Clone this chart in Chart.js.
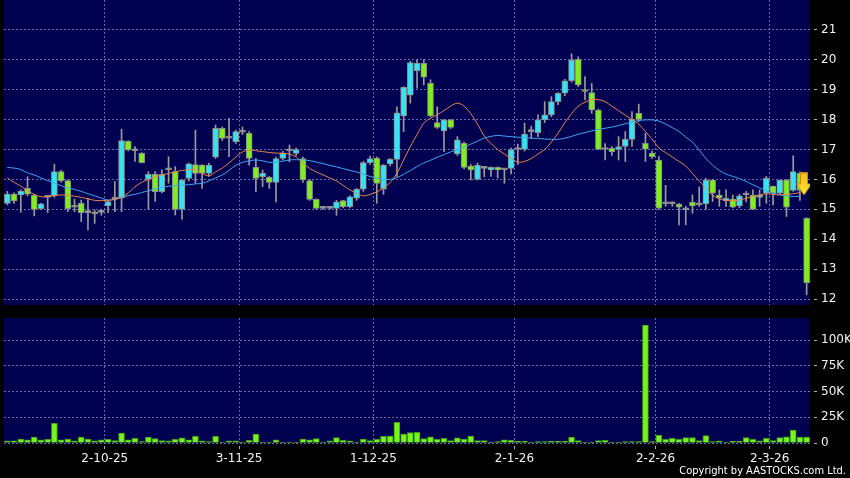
<!DOCTYPE html>
<html>
<head>
<meta charset="utf-8">
<script src="https://cdn.jsdelivr.net/npm/chart.js@4.4.1/dist/chart.umd.min.js"></script>
<style>
  body { margin: 0; background: #000; width: 850px; height: 478px; overflow: hidden; position: relative; font-family: "DejaVu Sans", sans-serif; }
  #priceBox { position: absolute; left: 0; top: 0; width: 850px; height: 310px; }
  #volBox { position: absolute; left: 0; top: 310px; width: 850px; height: 168px; }
  #copy { position: absolute; right: 4px; bottom: 1px; color: #fff; font-size: 11px; font-family: "DejaVu Sans Condensed", "DejaVu Sans", sans-serif; }
</style>
</head>
<body>
<div id="priceBox"><canvas id="priceChart"></canvas></div>
<div id="volBox"><canvas id="volChart"></canvas></div>
<div id="copy">Copyright by AASTOCKS.com Ltd.</div>
<script>
// daily candles, oldest first (index 0 .. 119)
const openP = [15.2,15.51,15.48,15.7,15.48,15.02,15.4,15.45,16.26,15.96,
  15.07,15.2,14.89,14.85,14.9,15.11,15.34,15.37,17.27,16.96,
  16.87,16.0,16.17,15.59,16.32,16.26,15.0,16.03,16.5,16.48,
  16.2,16.74,17.71,17.38,17.26,17.58,17.54,16.4,16.09,16.07,
  15.9,16.7,16.96,16.87,16.7,15.96,15.33,15.03,15.03,15.03,
  15.29,15.09,15.37,15.67,16.56,16.71,15.67,16.52,16.67,18.12,
  18.82,19.64,19.88,19.21,17.9,17.62,17.99,16.85,17.21,16.45,
  16.0,16.37,16.32,16.4,16.32,16.37,17.0,17.0,17.6,17.56,
  17.99,18.16,18.6,18.88,19.3,20.02,19.0,18.9,18.32,17.0,
  17.04,17.0,17.1,17.34,18.21,17.21,16.88,16.65,15.18,15.18,
  15.17,14.98,15.23,15.15,15.18,15.98,15.48,15.29,15.34,15.11,
  15.48,15.48,15.4,15.54,15.78,15.54,15.98,15.63,16.2,14.7];
const highP = [15.6,15.55,15.65,16.09,15.5,15.2,15.42,16.51,16.3,15.98,
  15.34,15.31,15.37,14.98,15.0,15.3,15.93,17.68,17.3,17.1,
  16.9,16.26,16.26,16.32,16.76,16.43,16.0,16.55,17.65,16.5,
  16.55,17.82,17.75,18.04,17.65,17.75,17.6,16.7,16.31,16.1,
  16.75,16.95,17.15,17.05,16.75,16.0,15.35,15.05,15.05,15.3,
  15.3,15.45,15.7,16.6,16.78,16.75,16.5,16.7,18.43,19.1,
  19.95,20.0,20.0,19.33,18.43,18.0,18.0,17.43,17.25,16.5,
  16.55,16.4,16.42,16.42,16.35,17.05,17.18,17.88,17.78,18.16,
  18.6,18.77,18.9,19.35,20.2,20.1,19.44,19.21,18.35,17.2,
  17.1,17.43,17.6,18.27,18.52,17.54,16.95,16.76,15.8,15.25,
  15.2,15.1,15.48,15.75,16.04,16.0,15.65,15.65,15.48,15.5,
  15.6,15.65,15.65,16.1,15.78,15.98,16.0,16.79,16.25,14.72];
const lowP = [15.15,15.2,14.9,15.45,14.78,15.0,14.89,15.4,15.9,14.92,
  14.92,14.59,14.31,14.53,14.8,14.89,14.92,14.92,16.95,16.6,
  16.55,15.0,15.26,15.55,15.87,14.81,14.67,15.95,15.87,15.7,
  16.1,16.7,17.3,16.76,17.2,17.5,16.48,15.59,15.76,15.7,
  15.25,16.65,16.59,16.8,15.9,15.3,15.0,15.0,15.0,14.8,
  15.05,15.05,15.3,15.6,16.5,15.2,15.5,16.45,16.1,17.6,
  18.55,19.05,19.16,18.1,17.7,16.93,17.7,16.8,16.35,15.98,
  15.98,16.09,16.1,16.05,15.87,16.18,16.5,16.95,17.37,17.43,
  17.9,18.1,18.5,18.8,19.25,19.1,18.66,18.21,17.0,16.65,
  16.8,16.65,16.6,17.1,17.93,16.6,16.7,15.0,15.1,15.1,
  14.48,14.48,14.87,15.1,15.0,15.26,15.1,15.1,15.05,15.05,
  15.25,15.0,15.1,15.2,15.15,15.5,14.76,15.6,15.3,12.14];
const closeP = [15.51,15.28,15.61,15.51,15.0,15.18,15.4,16.26,15.96,15.02,
  15.07,14.89,14.89,14.85,14.9,15.26,15.34,17.3,16.99,16.96,
  16.56,16.17,15.59,16.17,16.32,15.0,15.98,16.52,16.2,16.2,
  16.48,17.71,17.37,17.38,17.6,17.58,16.7,16.03,16.2,15.9,
  16.7,16.89,16.96,17.0,15.98,15.33,15.03,15.03,15.03,15.25,
  15.09,15.42,15.67,16.56,16.7,15.87,16.48,16.67,18.23,19.08,
  19.91,19.88,19.42,18.12,17.74,17.99,17.74,17.32,16.4,16.32,
  16.48,16.37,16.4,16.32,16.32,17.0,17.0,17.52,17.6,17.99,
  18.16,18.6,18.88,19.3,19.99,19.16,18.94,18.32,17.0,17.0,
  16.93,17.1,17.34,18.01,18.01,17.01,16.76,15.04,15.18,15.18,
  15.07,14.98,15.11,15.15,15.98,15.54,15.37,15.37,15.07,15.45,
  15.48,15.0,15.48,16.04,15.54,15.98,15.07,16.26,15.63,12.55];
// moving averages as drawn (short = orange, long = blue)
const maShort = [16.05,15.9,15.78,15.62,15.5,15.42,15.43,15.46,15.48,15.47,
  15.44,15.4,15.35,15.3,15.29,15.3,15.33,15.4,15.55,15.75,
  15.9,16.0,16.08,16.15,16.2,16.26,16.3,16.33,16.33,16.2,
  16.12,16.25,16.38,16.55,16.74,16.92,16.98,16.96,16.93,16.9,
  16.88,16.87,16.85,16.75,16.55,16.37,16.25,16.15,16.05,15.95,
  15.8,15.65,15.53,15.45,15.5,15.58,15.72,15.9,16.2,16.65,
  17.1,17.5,17.88,18.05,18.16,18.3,18.45,18.55,18.45,18.2,
  17.85,17.45,17.2,17.0,16.85,16.7,16.58,16.6,16.7,16.85,
  17.0,17.25,17.55,17.9,18.2,18.45,18.58,18.67,18.67,18.6,
  18.45,18.3,18.15,18.0,17.85,17.6,17.35,17.05,16.9,16.75,
  16.6,16.45,16.2,15.95,15.7,15.47,15.35,15.3,15.29,15.31,
  15.37,15.43,15.48,15.52,15.5,15.48,15.5,15.52,15.56,null];
const maLong = [16.4,16.38,16.33,16.22,16.15,16.05,15.96,15.88,15.79,15.72,
  15.66,15.6,15.52,15.45,15.37,15.31,15.34,15.4,15.46,15.5,
  15.56,15.62,15.68,15.74,15.77,15.79,15.81,15.82,15.85,15.87,
  15.95,16.05,16.15,16.3,16.47,16.57,16.62,16.65,16.62,16.57,
  16.58,16.61,16.65,16.66,16.65,16.63,16.58,16.53,16.47,16.42,
  16.36,16.3,16.25,16.17,16.1,16.04,16.0,16.0,16.06,16.17,
  16.3,16.43,16.55,16.64,16.74,16.83,16.92,16.99,17.08,17.18,
  17.28,17.38,17.44,17.47,17.45,17.43,17.41,17.4,17.38,17.37,
  17.35,17.34,17.34,17.38,17.44,17.51,17.57,17.62,17.67,17.71,
  17.75,17.8,17.86,17.92,17.97,17.99,17.99,17.95,17.85,17.73,
  17.6,17.42,17.25,16.98,16.7,16.48,16.3,16.18,16.1,16.03,
  15.93,15.82,15.72,15.62,15.54,15.49,15.45,15.43,15.43,null];
// volume in thousands
const volumeK = [2,2.2,3.9,3,5.8,3,3.6,19,3,3.9,
  2,5.8,3.9,2,3,3.6,2.3,9.7,3,4.5,
  1.3,5.8,4.2,2.3,2,3.6,4.9,3.2,6.5,2,
  1.3,6.5,1,2,2,1,2.6,8.7,1,0.6,
  3,0.6,1,0.6,3.9,3.2,4.2,1,2,5.2,
  2.6,2,1,3.9,2.3,3.6,6.5,6.8,20,8.7,
  10,10.4,4.4,6,3.6,4.5,2.3,4.9,3.9,6.8,
  2.3,2.3,0.3,1.3,3,2.6,1.6,1.6,1,1.3,
  1.3,1.6,1.6,1.6,5.8,2.3,0.6,0.3,2.3,2.6,
  1,1,1.3,1.3,1.3,114.6,1.3,7.8,3.6,4.5,
  3.6,5.2,5.2,2.3,7.1,1.3,2,1,1.6,1.6,
  5.2,3.6,2,4.5,2.3,5.2,6.1,12.6,5.8,5.8];
// date ticks sit on the left edge of the first session of each month
const dateTickPos = [14.5, 34.5, 54.5, 75.5, 96.5, 113.5];
const dateTickLabels = ['2-10-25', '3-11-25', '1-12-25', '2-1-26', '2-2-26', '2-3-26'];
const priceTicks = [12, 13, 14, 15, 16, 17, 18, 19, 20, 21];
const volumeTicks = [0, 25, 50, 75, 100];
// sell signal arrow on the last but one session
const signalX = 118.6;
const signalY = 15.85;

const navy = '#000050';
const gridColor = 'rgba(130,130,200,0.8)';
const labelColor = '#f2f2f2';
const upColor = '#35e3f2';
const downColor = '#7fee1e';
const flatColor = '#a8a8a8';

const plotBackground = {
  id: 'plotBackground',
  beforeDraw(chart) {
    const {ctx, chartArea: a} = chart;
    ctx.save();
    ctx.fillStyle = navy;
    ctx.fillRect(a.left, a.top, a.right - a.left, a.bottom - a.top);
    ctx.restore();
  }
};

// arrow glyph for the signal point
const arrow = document.createElement('canvas');
arrow.width = 16; arrow.height = 23;
(function () {
  const c = arrow.getContext('2d');
  const g = c.createLinearGradient(0, 0, 0, 23);
  g.addColorStop(0, '#f7b81a');
  g.addColorStop(1, '#ffe83a');
  c.fillStyle = g;
  c.strokeStyle = '#c98a00';
  c.beginPath();
  c.moveTo(4.5, 0.5); c.lineTo(11.5, 0.5); c.lineTo(11.5, 11.5); c.lineTo(15.5, 11.5);
  c.lineTo(8, 22.5); c.lineTo(0.5, 11.5); c.lineTo(4.5, 11.5); c.closePath();
  c.fill(); c.stroke();
})();

const candleColor = closeP.map((c, i) => c > openP[i] ? upColor : (c < openP[i] ? downColor : flatColor));

// no auto padding from tick labels
const noPad = s => { s.paddingTop = 0; s.paddingBottom = 0; s.paddingLeft = 0; s.paddingRight = 0; };

const xBase = {
  type: 'linear', min: -0.5, max: 119.5, offset: false,
  afterBuildTicks: s => { s.ticks = dateTickPos.map(v => ({value: v})); }
};

new Chart(document.getElementById('priceChart'), {
  type: 'bar',
  data: {
    datasets: [
      {
        type: 'scatter', order: 0,
        data: [{x: signalX, y: signalY}],
        pointStyle: arrow, pointRadius: 8
      },
      {
        type: 'line', order: 1,
        data: maShort.map((v, i) => ({x: i, y: v})),
        borderColor: '#e8824c', borderWidth: 1, pointRadius: 0, tension: 0.35
      },
      {
        type: 'line', order: 1,
        data: maLong.map((v, i) => ({x: i, y: v})),
        borderColor: '#3fa6ee', borderWidth: 1, pointRadius: 0, tension: 0.35
      },
      {
        order: 2, grouped: false,
        data: openP.map((o, i) => ({x: i, y: [o, closeP[i]]})),
        backgroundColor: candleColor,
        borderColor: '#8c8c8c', borderWidth: 1, borderSkipped: false,
        barThickness: 6, minBarLength: 2
      },
      {
        order: 3, grouped: false,
        data: lowP.map((l, i) => ({x: i, y: [l, highP[i]]})),
        backgroundColor: '#9a9a9a',
        barThickness: 1
      }
    ]
  },
  options: {
    responsive: true, maintainAspectRatio: false, animation: false,
    layout: {autoPadding: false, padding: {left: 4, top: 0, right: 0, bottom: 5}},
    plugins: {legend: {display: false}, tooltip: {enabled: false}},
    scales: {
      x: Object.assign({}, xBase, {
        ticks: {display: false},
        grid: {color: gridColor, drawTicks: false, offset: false},
        border: {display: false, dash: [2, 2]},
        afterFit: s => { s.height = 0; noPad(s); }
      }),
      y: {
        position: 'right', min: 11.8, max: 22.0,
        afterBuildTicks: s => { s.ticks = priceTicks.map(v => ({value: v})); },
        ticks: {color: labelColor, font: {family: 'DejaVu Sans', size: 12}, padding: 4},
        grid: {color: gridColor, tickLength: 7, tickColor: '#b0b0b0', tickBorderDash: [0, 4, 3, 50]},
        border: {display: false, dash: [2, 2]},
        afterFit: s => { s.width = 40; noPad(s); }
      }
    }
  },
  plugins: [plotBackground]
});

new Chart(document.getElementById('volChart'), {
  type: 'bar',
  data: {
    datasets: [{
      data: volumeK.map((v, i) => ({x: i, y: v})),
      backgroundColor: '#76f21c',
      borderColor: '#3e9a12', borderWidth: 1,
      barThickness: 6
    }]
  },
  options: {
    responsive: true, maintainAspectRatio: false, animation: false,
    layout: {autoPadding: false, padding: {left: 4, top: 8, right: 0, bottom: 0}},
    plugins: {legend: {display: false}, tooltip: {enabled: false}},
    scales: {
      x: Object.assign({}, xBase, {
        ticks: {
          color: labelColor, font: {family: 'DejaVu Sans', size: 12}, padding: 2,
          maxRotation: 0, autoSkip: false,
          callback: v => dateTickLabels[dateTickPos.indexOf(v)]
        },
        grid: {color: gridColor, tickLength: 7, tickColor: '#b0b0b0', tickBorderDash: [0, 3, 3, 50], offset: false},
        border: {display: false, dash: [2, 2]},
        afterFit: s => { s.height = 35; noPad(s); }
      }),
      y: {
        position: 'right', min: 0, max: 121.4,
        afterBuildTicks: s => { s.ticks = volumeTicks.map(v => ({value: v})); },
        ticks: {
          color: labelColor, font: {family: 'DejaVu Sans', size: 12}, padding: 4,
          callback: v => v === 0 ? '0' : v + 'K'
        },
        grid: {color: gridColor, tickLength: 7, tickColor: '#b0b0b0', tickBorderDash: [0, 4, 3, 50]},
        border: {display: false, dash: [2, 2]},
        afterFit: s => { s.width = 40; noPad(s); }
      }
    }
  },
  plugins: [plotBackground]
});
</script>
</body>
</html>
